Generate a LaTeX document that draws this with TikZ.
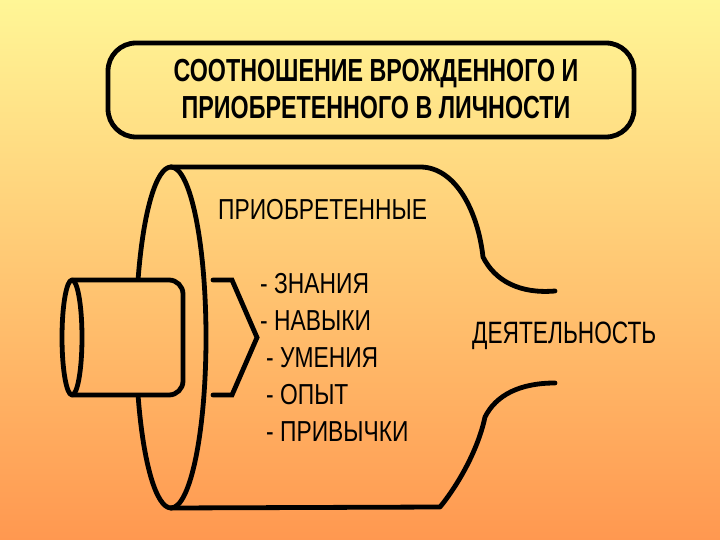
\documentclass[tikz,border=0pt]{standalone}
\usepackage{fontspec}
\setmainfont{Liberation Sans}
\newfontfamily\titlefont[FakeStretch=0.73]{Liberation Sans}
\newfontfamily\bodyfont[FakeStretch=0.79]{Liberation Sans}
\newfontfamily\actfont[FakeStretch=0.735]{Liberation Sans}
\definecolor{bgtop}{RGB}{255,246,150}
\definecolor{bgbot}{RGB}{255,152,80}
\tikzset{
  outline/.style={draw=black, line width=4.8bp, line join=round, line cap=round},
  titletext/.style={inner sep=0pt, align=center, font=\titlefont\bfseries\fontsize{32}{36.5}\selectfont},
  bodytext/.style={inner sep=0pt, anchor=west, font=\bodyfont\fontsize{29}{34}\selectfont},
  acttext/.style={inner sep=0pt, anchor=west, font=\actfont\fontsize{31}{36}\selectfont},
}
\begin{document}
\begin{tikzpicture}[x=1bp, y=-1bp]
\useasboundingbox (0,0) rectangle (720,540);
\shade[top color=bgtop, bottom color=bgbot] (0,0) rectangle (720,540);

% title box
\draw[outline, rounded corners=28bp] (108,43) rectangle (634,137);
\node[titletext] (title) at (376,89) {СООТНОШЕНИЕ ВРОЖДЕННОГО И\\ПРИОБРЕТЕННОГО В ЛИЧНОСТИ};

% big cylinder
\coordinate (bigtop) at (171,167);
\coordinate (bigbot) at (171,508);
\draw[outline] (bigtop) -- (420,167)
  .. controls (456,167) and (478,212) .. (483,257)
  .. controls (495,281) and (520,294) .. (555,291);
\draw[outline] (bigbot) -- (440,507)
  .. controls (458,485) and (478,450) .. (485,417)
  .. controls (496,395) and (520,383) .. (555,383);
\draw[outline] (bigtop) arc[start angle=-90, end angle=90, x radius=35, y radius=170.5];
\draw[outline] (bigtop) arc[start angle=-90, end angle=-160, x radius=35, y radius=170.5];
\draw[outline] (bigbot) arc[start angle=90, end angle=160, x radius=35, y radius=170.5];

% inner cylinder
\draw[outline] (72,337.5) ellipse [x radius=10, y radius=57.5];
\draw[outline, rounded corners=14bp] (72,280) -- (183,280) -- (183,395) -- (72,395);

% chevron
\draw[outline, line join=miter] (213,280) -- (232,280) -- (257,337.5) -- (232,395) -- (213,395);

% texts
\node[bodytext] (acq) at (218,210) {ПРИОБРЕТЕННЫЕ};
\node[bodytext] (i1) at (260,284) {- ЗНАНИЯ};
\node[bodytext] (i2) at (260,321) {- НАВЫКИ};
\node[bodytext] (i3) at (266,358) {- УМЕНИЯ};
\node[bodytext] (i4) at (266,395) {- ОПЫТ};
\node[bodytext] (i5) at (266,432) {- ПРИВЫЧКИ};
\node[acttext] (act) at (472,336) {ДЕЯТЕЛЬНОСТЬ};
\end{tikzpicture}
\end{document}
